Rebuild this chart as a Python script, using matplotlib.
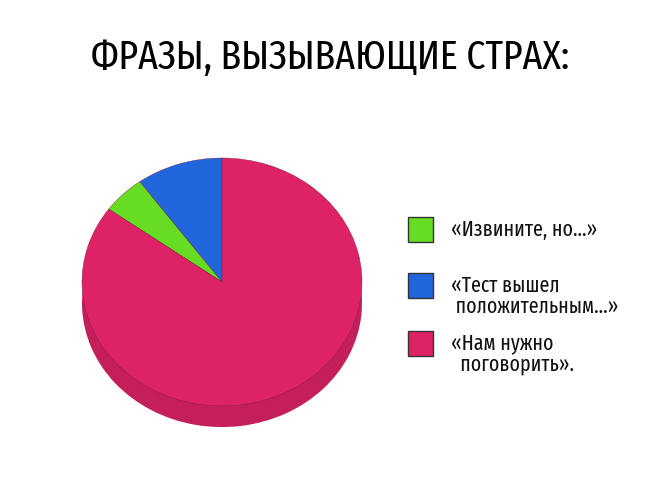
import matplotlib
matplotlib.use('Agg')
from matplotlib import pyplot as plt
from matplotlib.patches import Rectangle

title = 'ФРАЗЫ, ВЫЗЫВАЮЩИЕ СТРАХ:'
# pie order (counterclockwise from 12 o'clock)
shares = [10, 5, 85]
colors = ['#2266dd', '#66dd22', '#dd2266']
side_colors = ['#1d57bc', '#57bc1d', '#c41f5b']
# legend order
legend_idx = [1, 0, 2]
legend_labels = ['«Извините, но...»', '«Тест вышел\n положительным...»', '«Нам нужно\n  поговорить».']

font = ['Fira Sans Extra Condensed', 'DejaVu Sans']

fig = plt.figure(figsize=(6.5, 4.97), dpi=100)
W, H = 650, 497

fig.text(330 / W, 1 - 58 / H, title, ha='center', va='center',
         fontsize=29.5, fontweight='normal', family=font)

# pie top face: x 82..362, y 158..406 px, side depth about 20 px
depth = 0.17
ax_h = 248 * (2 + depth) / 2
ax = fig.add_axes([82 / W, (H - 158 - ax_h) / H, 280 / W, ax_h / H])
ax.pie(shares, colors=side_colors, startangle=90, counterclock=True,
       center=(0, -depth), radius=1, wedgeprops=dict(linewidth=0))
ax.pie(shares, colors=colors, startangle=90, counterclock=True,
       center=(0, 0), radius=1, wedgeprops=dict(linewidth=0.3, edgecolor='#7a2040'))
ax.set_aspect('auto')
ax.set_xlim(-1, 1)
ax.set_ylim(-1 - depth, 1)
ax.axis('off')

# legend
box_y = [230, 286, 344]
for k, (i, lab) in enumerate(zip(legend_idx, legend_labels)):
    y = box_y[k]
    fig.patches.append(Rectangle((408 / W, 1 - (y + 12) / H), 25 / W, 25 / H,
                                 transform=fig.transFigure, facecolor=colors[i],
                                 edgecolor='#333333', linewidth=1))
    fig.text(451 / W, 1 - (y - 11) / H, lab, ha='left', va='top', fontsize=15.5,
             linespacing=0.98, color='#111111', family=font)

fig.savefig('out.png', dpi=100, facecolor='white')
